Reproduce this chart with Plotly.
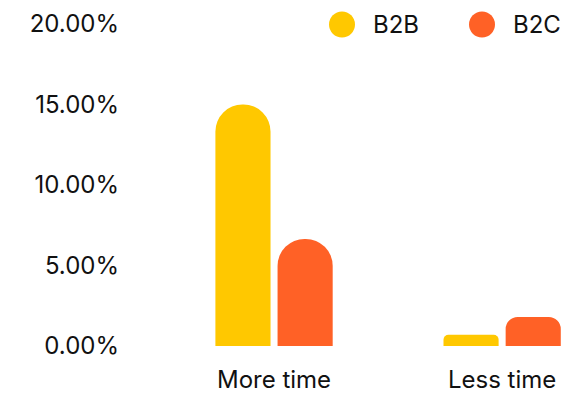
import plotly.graph_objects as go

categories = ["More time", "Less time"]
b2b_values = [15.0, 0.7]
b2c_values = [6.65, 1.8]
series_names = ["B2B", "B2C"]
colors = ["#FFC800", "#FF6126"]

# corner rounding per bar (short bars get softer corners)
corner_radius = {"B2B": ["50%", 5], "B2C": ["50%", 12]}

W, H = 566, 395
FONT = "Inter, Lato, sans-serif"
TEXT = "#111111"
L, R, T, B = 160, 0, 24, 49

fig = go.Figure()
for name, vals, col in zip(series_names, [b2b_values, b2c_values], colors):
    for i, cat in enumerate(categories):
        fig.add_trace(go.Bar(
            x=[cat], y=[vals[i]], name=name, offsetgroup=name,
            marker=dict(color=col, line=dict(width=0),
                        cornerradius=corner_radius[name][i]),
            showlegend=False, hoverinfo="skip",
        ))

# Legend: large circular swatches with labels along the top edge
legend_y = 1 - (24.5 - T) / (H - T - B)
legend_pos = [(342, 373), (482, 513)]
for (cx, tx), name, col in zip(legend_pos, series_names, colors):
    fig.add_shape(type="circle", xref="paper", yref="paper",
                  xsizemode="pixel", ysizemode="pixel",
                  xanchor=(cx - L) / (W - L - R), yanchor=legend_y,
                  x0=-13, x1=13, y0=-13, y1=13,
                  fillcolor=col, line=dict(width=0))
    fig.add_annotation(text=name, xref="paper", yref="paper",
                       x=(tx - L) / (W - L - R), y=legend_y,
                       xanchor="left", yanchor="middle", showarrow=False,
                       xshift=-2, font=dict(family=FONT, size=24, color=TEXT))

fig.update_layout(
    width=W, height=H,
    margin=dict(l=L, r=R, t=T, b=B),
    paper_bgcolor="white", plot_bgcolor="white",
    barmode="group", bargap=0.455, bargroupgap=0.113,
    font=dict(family=FONT, size=24, color=TEXT),
    xaxis=dict(range=[-0.5, 1.28], showgrid=False, zeroline=False, showline=False,
               ticks="", ticklabelstandoff=17),
    yaxis=dict(range=[0, 20], tickvals=[0, 5, 10, 15, 20],
               ticktext=["0.00%", "5.00%", "10.00%", "15.00%", "20.00%"],
               showgrid=False, zeroline=False, showline=False, ticks="",
               ticklabelstandoff=40),
)

fig.write_html("out.html")
